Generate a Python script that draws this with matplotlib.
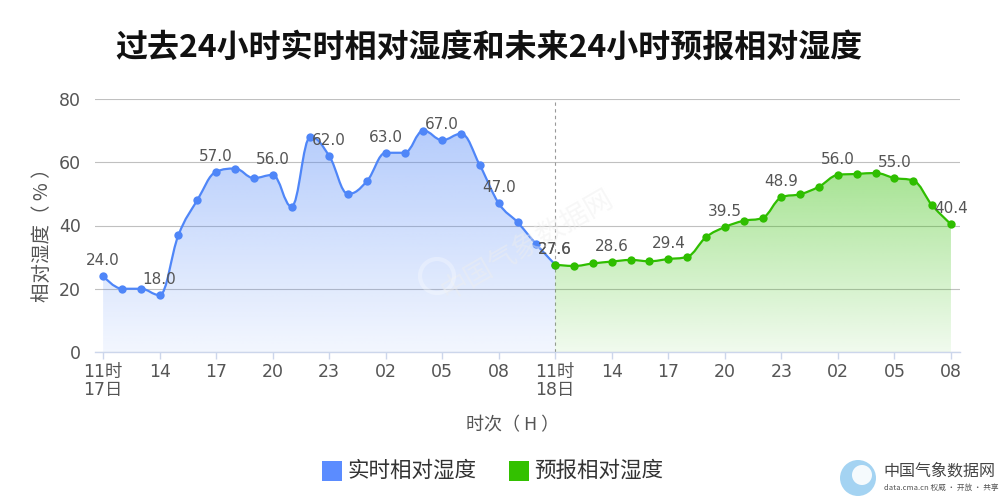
import numpy as np
import matplotlib
matplotlib.use('Agg')
import matplotlib.pyplot as plt
from matplotlib.path import Path
from matplotlib.patches import PathPatch, Rectangle, Ellipse
from matplotlib.colors import to_rgb

plt.rcParams['font.family'] = ['DejaVu Sans', 'Noto Sans CJK SC']

# ---------------- data ----------------
title = '过去24小时实时相对湿度和未来24小时预报相对湿度'
past_name = '实时相对湿度'
fcst_name = '预报相对湿度'
y_title = '相对湿度（ % ）'
x_title = '时次（ H ）'

past_values = [24.0, 20.0, 20.0, 18.0, 37.0, 48.0, 57.0, 58.0, 55.0, 56.0, 46.0, 68.0,
               62.0, 50.0, 54.0, 63.0, 63.0, 70.0, 67.0, 69.0, 59.0, 47.0, 41.0, 34.0, 27.6]
fcst_values = [27.6, 27.2, 28.0, 28.6, 29.1, 28.7, 29.4, 30.1, 36.3, 39.5, 41.5, 42.4,
               48.9, 49.9, 52.3, 56.0, 56.3, 56.6, 55.0, 54.2, 46.4, 40.4]
tick_labels = ['11时\n17日', '14', '17', '20', '23', '02', '05', '08',
               '11时\n18日', '14', '17', '20', '23', '02', '05', '08']
y_ticks = [0, 20, 40, 60, 80]

BLUE = '#4f86f8'
GREEN = '#2fbe00'

past_x = np.arange(len(past_values))
fcst_x = np.arange(len(fcst_values)) + len(past_values) - 1
tick_pos = np.arange(len(tick_labels)) * 3


def hc_spline(xs, ys, smoothing=1.5):
    n = len(xs)
    denom = smoothing + 1
    lc = [None] * n
    rc = [None] * n
    for i in range(1, n - 1):
        px, py = xs[i], ys[i]
        lx, ly = xs[i - 1], ys[i - 1]
        nx, ny = xs[i + 1], ys[i + 1]
        lcx = (smoothing * px + lx) / denom
        lcy = (smoothing * py + ly) / denom
        rcx = (smoothing * px + nx) / denom
        rcy = (smoothing * py + ny) / denom
        corr = ((rcy - lcy) * (rcx - px)) / (rcx - lcx) + py - rcy
        lcy += corr
        rcy += corr
        if lcy > ly and lcy > py:
            lcy = max(ly, py)
            rcy = 2 * py - lcy
        elif lcy < ly and lcy < py:
            lcy = min(ly, py)
            rcy = 2 * py - lcy
        if rcy > ny and rcy > py:
            rcy = max(ny, py)
            lcy = 2 * py - rcy
        elif rcy < ny and rcy < py:
            rcy = min(ny, py)
            lcy = 2 * py - rcy
        lc[i] = (lcx, lcy)
        rc[i] = (rcx, rcy)
    verts = [(xs[0], ys[0])]
    codes = [Path.MOVETO]
    for i in range(1, n):
        c1 = rc[i - 1] if rc[i - 1] is not None else (xs[i - 1], ys[i - 1])
        c2 = lc[i] if lc[i] is not None else (xs[i], ys[i])
        verts += [c1, c2, (xs[i], ys[i])]
        codes += [Path.CURVE4] * 3
    return verts, codes


fig = plt.figure(figsize=(10, 5), dpi=100)
ax = fig.add_axes([0.095, 0.296, 0.865, 0.506])
xlim = (-0.43, 45.48)
ylim = (0, 80)


def draw_series(xs, ys, color, zorder):
    verts, codes = hc_spline(list(map(float, xs)), list(map(float, ys)))
    fverts = verts + [(xs[-1], 0), (xs[0], 0), (xs[0], ys[0])]
    fcodes = codes + [Path.LINETO, Path.LINETO, Path.CLOSEPOLY]
    fpath = Path(fverts, fcodes)
    patch = PathPatch(fpath, facecolor='none', edgecolor='none', transform=ax.transData)
    ax.add_patch(patch)
    r, g, b = to_rgb(color)
    grad = np.zeros((256, 1, 4))
    grad[:, 0, 0] = r
    grad[:, 0, 1] = g
    grad[:, 0, 2] = b
    grad[:, 0, 3] = np.linspace(0.42, 0.07, 256)
    im = ax.imshow(grad, extent=[xs[0], xs[-1], 0, max(ys)], origin='upper',
                   aspect='auto', zorder=zorder, interpolation='bilinear')
    im.set_clip_path(patch)
    lpath = Path(verts, codes)
    ax.add_patch(PathPatch(lpath, facecolor='none', edgecolor=color, lw=1.6,
                           zorder=zorder + 2, capstyle='round', joinstyle='round'))
    ax.plot(xs, ys, 'o', color=color, ms=6, mec='none', zorder=zorder + 3)
    for i in range(0, len(xs), 3):
        ax.annotate(f'{ys[i]:.1f}', (xs[i], ys[i]), xytext=(0, 8),
                    textcoords='offset pixels', ha='center', va='bottom',
                    fontsize=11, color='#555555', zorder=zorder + 4)


draw_series(past_x, past_values, BLUE, 2)
draw_series(fcst_x, fcst_values, GREEN, 7)

ax.axvline(len(past_values) - 1, color='#999999', lw=0.8, ls=(0, (3, 3)), zorder=5)

ax.set_xlim(*xlim)
ax.set_ylim(*ylim)
ax.set_yticks(y_ticks)
ax.set_xticks(tick_pos)
ax.set_xticklabels(tick_labels, linespacing=1.0)
ax.yaxis.grid(True, color='#c0c0c0', lw=0.8)
ax.set_axisbelow(True)
for s in ['left', 'right', 'top']:
    ax.spines[s].set_visible(False)
ax.spines['bottom'].set_color('#ccd6eb')
ax.spines['bottom'].set_linewidth(1.0)
ax.spines['bottom'].set_zorder(20)
ax.tick_params(axis='x', length=5, color='#ccd6eb', width=1, labelsize=12.5,
               labelcolor='#555555', pad=3)
ax.tick_params(axis='y', length=0, labelsize=12.5, labelcolor='#555555', pad=10)
ax.set_facecolor('none')

cjk = ['Noto Sans CJK SC', 'DejaVu Sans']

# watermark
ax.text(0.50, 0.42, '中国气象数据网', transform=ax.transAxes, rotation=30,
        fontsize=20, color='#eeeeee', alpha=0.45, ha='center', va='center',
        family=cjk, zorder=15)
fig.patches.append(Ellipse((0.437, 0.448), 0.034, 0.068, transform=fig.transFigure,
                           facecolor='none', edgecolor='#ffffff', lw=3, alpha=0.3))

fig.text(0.489, 0.905, title, ha='center', va='center', fontsize=23,
         fontweight='bold', color='#111111', family=cjk)
fig.text(0.042, 0.54, y_title, rotation=90, ha='center', va='center',
         fontsize=14, color='#555555', family=cjk)
fig.text(0.513, 0.15, x_title, ha='center', va='center', fontsize=13,
         color='#555555', family=cjk)

# legend
for (x0, name, col) in [(0.322, past_name, '#5b8cff'), (0.509, fcst_name, '#33c100')]:
    fig.patches.append(Rectangle((x0, 0.039), 0.02, 0.04, transform=fig.transFigure,
                                 facecolor=col, edgecolor='none'))
    fig.text(x0 + 0.025, 0.059, name, ha='left', va='center', fontsize=15.5,
             color='#333333', family=cjk)

# logo bottom right
fig.patches.append(Ellipse((0.858, 0.044), 0.036, 0.072, transform=fig.transFigure,
                           facecolor='#8ec9ef', edgecolor='none', alpha=0.8))
fig.patches.append(Ellipse((0.862, 0.050), 0.02, 0.04, transform=fig.transFigure,
                           facecolor='#ffffff', edgecolor='none', alpha=0.9))
fig.text(0.883, 0.058, '中国气象数据网', ha='left', va='center', fontsize=11.5,
         color='#444444', family=cjk)
fig.text(0.884, 0.024, 'data.cma.cn 权威 · 开放 · 共享', ha='left', va='center',
         fontsize=5.5, color='#555555', family=cjk)

fig.savefig('out.png', dpi=100, facecolor='white')
